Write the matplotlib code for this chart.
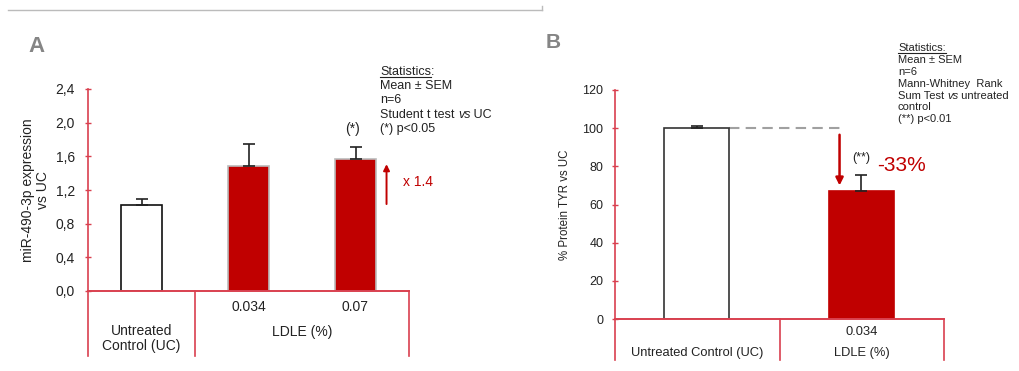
import matplotlib
matplotlib.use("Agg")
import matplotlib.pyplot as plt
from matplotlib.lines import Line2D

plt.rcParams['font.family'] = ['Liberation Sans', 'DejaVu Sans']

# ---- data ----
a_categories = ["Untreated\nControl (UC)", "0.034", "0.07"]
a_values = [1.02, 1.485, 1.565]
a_errors = [0.075, 0.26, 0.14]
a_yticks = [0.0, 0.4, 0.8, 1.2, 1.6, 2.0, 2.4]
a_yticklabels = ["0,0", "0,4", "0,8", "1,2", "1,6", "2,0", "2,4"]

b_categories = ["Untreated Control (UC)", "0.034"]
b_values = [100.0, 67.2]
b_errors = [1.2, 8.3]
b_yticks = [0, 20, 40, 60, 80, 100, 120]

W, H = 1019, 371
RED = "#c00000"
AXRED = "#d9404f"
TXT = "#222222"

fig = plt.figure(figsize=(W / 100, H / 100), dpi=100)
fig.canvas.draw()
R = fig.canvas.get_renderer()


def fx(x):
    return x / W


def fy(y):
    return 1 - y / H


def add_ax(l, t, r, b):
    return fig.add_axes([fx(l), fy(b), (r - l) / W, (b - t) / H])


def style(ax, ls, pad):
    for s in ("top", "right"):
        ax.spines[s].set_visible(False)
    for s in ("left", "bottom"):
        ax.spines[s].set_color(AXRED)
        ax.spines[s].set_linewidth(1.2)
    ax.tick_params(axis="y", colors=AXRED, labelcolor=TXT, length=5, width=1.0,
                   direction="inout", labelsize=ls, pad=pad)
    ax.tick_params(axis="x", length=0, labelbottom=False)
    ax.set_facecolor("none")


def seg_text(x, y, parts, size):
    """Draw a line made of (text, style) segments left to right, in pixels."""
    cur = x
    for s, st in parts:
        t = fig.text(fx(cur), fy(y), s, fontsize=size, color=TXT, ha="left",
                     va="baseline", fontstyle=st)
        cur += t.get_window_extent(R).width
    return cur


def underline(x, y, s, size):
    t = fig.text(fx(x), fy(y), s, fontsize=size, ha="left", va="baseline", alpha=0)
    bb = t.get_window_extent(R)
    fig.add_artist(Line2D([fx(x), fx(x) + bb.width / W], [fy(y + 2), fy(y + 2)],
                          color=TXT, lw=0.8))


# top decorative line
fig.add_artist(Line2D([fx(8), fx(542)], [fy(10), fy(10)], color="#bbbbbb", lw=1))
fig.add_artist(Line2D([fx(542), fx(542)], [fy(10), fy(6)], color="#bbbbbb", lw=1))

# ---------------- Panel A ----------------
axA = add_ax(88, 89, 409, 291)
style(axA, 10, 7)
axA.set_xlim(0, 3)
axA.set_ylim(0, 2.4)
xa = [0.5, 1.5, 2.5]
faces = ["white", RED, RED]
edges = ["#111111", "#bbbbbb", "#bbbbbb"]
for x, v, e, fc, ec in zip(xa, a_values, a_errors, faces, edges):
    axA.bar(x, v, width=0.39, color=fc, edgecolor=ec, linewidth=1.2, zorder=2)
    axA.errorbar(x, v, yerr=[[0], [e]], color="#222222", capsize=4, elinewidth=1.2,
                 capthick=1.2, zorder=3)
axA.set_yticks(a_yticks)
axA.set_yticklabels(a_yticklabels)
axA.set_ylabel("miR-490-3p expression\nvs UC", fontsize=10, color=TXT, labelpad=4,
               linespacing=1.05)
ylowA = -0.77
for xv in (0.0, 1.0, 3.0):
    axA.plot([xv, xv], [0, ylowA], color=AXRED, lw=1.2, clip_on=False)
axA.plot([0, 3], [0, 0], color=AXRED, lw=1.2, clip_on=False)
axA.text(xa[1], -0.19, a_categories[1], ha="center", va="center", fontsize=10, color=TXT)
axA.text(xa[2], -0.19, a_categories[2], ha="center", va="center", fontsize=10, color=TXT)
axA.text(xa[0], -0.56, a_categories[0], ha="center", va="center", fontsize=10, color=TXT,
         linespacing=1.1)
axA.text(2.0, -0.49, "LDLE (%)", ha="center", va="center", fontsize=10, color=TXT)
axA.text(xa[2] - 0.03, 1.93, "(*)", ha="center", va="center", fontsize=10, color=TXT)
axA.annotate("", xy=(2.79, 1.54), xytext=(2.79, 1.0),
             arrowprops=dict(arrowstyle="-|>", color=RED, lw=1.4, mutation_scale=9))
axA.text(2.94, 1.3, "x 1.4", ha="left", va="center", fontsize=10, color=RED)

fig.text(fx(28), fy(47), "A", fontsize=16, fontweight="bold", color="#858585",
         ha="left", va="center")

sA = 9
linesA = [[("Statistics:", "normal")],
          [("Mean ± SEM", "normal")],
          [("n=6", "normal")],
          [("Student t test ", "normal"), ("vs", "italic"), (" UC", "normal")],
          [("(*) p<0.05", "normal")]]
for i, parts in enumerate(linesA):
    seg_text(380, 75 + 14.2 * i, parts, sA)
underline(380, 75, "Statistics", sA)

# ---------------- Panel B ----------------
axB = add_ax(615, 90, 944, 319)
style(axB, 9, 6)
axB.set_xlim(0, 2)
axB.set_ylim(0, 120)
xb = [0.496, 1.497]
for x, v, e, fc, ec in zip(xb, b_values, b_errors, ["white", RED], ["#333333", RED]):
    axB.bar(x, v, width=0.395, color=fc, edgecolor=ec, linewidth=1.2, zorder=2)
    axB.errorbar(x, v, yerr=[[0], [e]], color="#222222", capsize=4, elinewidth=1.2,
                 capthick=1.2, zorder=3)
axB.set_yticks(b_yticks)
axB.set_ylabel("% Protein TYR vs UC", fontsize=8.3, color=TXT, labelpad=8)
ylowB = -21.5
for xv in (0.0, 1.0, 2.0):
    axB.plot([xv, xv], [0, ylowB], color=AXRED, lw=1.2, clip_on=False)
axB.plot([0, 2], [0, 0], color=AXRED, lw=1.2, clip_on=False)
axB.text(xb[1], -7.0, b_categories[1], ha="center", va="center", fontsize=9.3, color=TXT)
axB.text(0.5, -18.0, b_categories[0], ha="center", va="center", fontsize=9.3, color=TXT)
axB.text(1.5, -18.0, "LDLE (%)", ha="center", va="center", fontsize=9.3, color=TXT)
axB.plot([xb[0] + 0.2, 1.365], [b_values[0], b_values[0]], color="#a0a0a0", lw=1.5,
         ls=(0, (5, 3)), zorder=1)
axB.annotate("", xy=(1.365, 68.5), xytext=(1.365, 98),
             arrowprops=dict(arrowstyle="-|>", color=RED, lw=1.8, mutation_scale=11))
axB.text(xb[1], 84.5, "(**)", ha="center", va="center", fontsize=9, color=TXT)
axB.text(1.595, 80.5, "-33%", ha="left", va="center", fontsize=15, color=RED)

fig.text(fx(546), fy(42), "B", fontsize=15, fontweight="bold", color="#858585",
         ha="left", va="center")

sB = 8.0
linesB = [[("Statistics:", "normal")],
          [("Mean ± SEM", "normal")],
          [("n=6", "normal")],
          [("Mann-Whitney  Rank", "normal")],
          [("Sum Test ", "normal"), ("vs", "italic"), (" untreated", "normal")],
          [("control", "normal")],
          [("(**) p<0.01", "normal")]]
for i, parts in enumerate(linesB):
    seg_text(898, 51 + 11.9 * i, parts, sB)
underline(898, 51, "Statistics:", sB)

fig.savefig("out.png", dpi=100)
